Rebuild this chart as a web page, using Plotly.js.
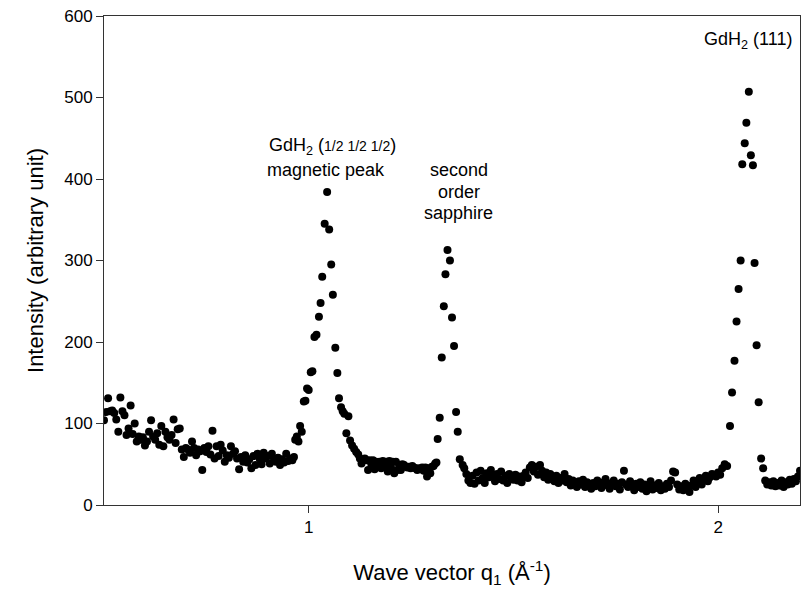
<!DOCTYPE html>
<html>
<head>
<meta charset="utf-8">
<script src="https://cdn.plot.ly/plotly-3.0.1.min.js"></script>
<style>html,body{margin:0;padding:0;background:#fff;}#chart{width:802px;height:598px;}</style>
</head>
<body>
<div id="chart"></div>
<script>
// Wave vector q1 (1/Å)
const qValues = [
0.500,0.505,0.510,0.515,0.520,0.525,0.530,0.535,0.540,0.545,0.550,0.555,0.560,0.565,0.570,0.575,0.580,0.585,0.590,0.595,
0.600,0.605,0.610,0.615,0.620,0.625,0.630,0.635,0.640,0.645,0.650,0.655,0.660,0.665,0.670,0.675,0.680,0.685,0.690,0.695,
0.700,0.705,0.710,0.715,0.720,0.725,0.730,0.735,0.740,0.745,0.750,0.755,0.760,0.765,0.770,0.775,0.780,0.785,0.790,0.795,
0.800,0.805,0.810,0.815,0.820,0.825,0.830,0.835,0.840,0.845,0.850,0.855,0.860,0.865,0.870,0.875,0.880,0.885,0.890,0.895,
0.900,0.905,0.910,0.915,0.920,0.925,0.930,0.935,0.940,0.945,0.950,0.955,
0.960,0.964,0.967,0.971,0.975,0.979,0.983,0.988,0.992,0.996,1.000,1.005,1.009,1.014,1.019,1.025,1.029,1.033,1.039,1.045,
1.050,1.055,1.059,1.065,1.070,1.074,1.079,1.083,1.087,1.092,1.097,1.101,1.106,1.111,1.116,
1.121,1.125,1.129,1.133,1.137,1.141,1.145,1.149,1.153,1.157,1.161,1.165,1.169,1.173,1.177,1.181,1.185,1.189,1.193,1.197,
1.201,1.205,1.209,1.213,1.217,1.221,1.225,1.229,1.233,1.237,1.241,1.245,1.249,1.253,1.257,1.261,1.265,1.269,1.273,1.277,
1.281,1.285,1.289,1.293,1.297,1.301,1.305,1.309,1.312,
1.315,1.320,1.325,1.330,1.334,1.339,1.345,1.350,1.355,1.360,1.364,1.369,1.376,
1.380,1.385,1.390,1.395,1.400,1.405,1.410,1.415,1.420,1.425,1.430,1.435,1.440,1.445,1.450,1.455,1.460,1.465,1.470,1.475,
1.480,1.485,1.490,1.495,1.500,1.505,1.510,1.515,1.520,1.525,1.530,1.535,1.540,1.545,1.550,1.555,1.560,1.565,1.570,1.575,
1.580,1.585,1.590,1.595,1.600,1.605,1.610,1.615,1.620,1.625,1.630,1.635,1.640,1.645,1.650,1.655,1.660,1.665,1.670,1.675,
1.680,1.685,1.690,1.695,1.700,1.705,1.710,1.715,1.720,1.725,1.730,1.735,1.740,1.745,1.750,1.755,1.760,1.765,1.770,1.775,
1.780,1.785,1.790,1.795,1.800,1.805,1.810,1.815,1.820,1.825,1.830,1.835,1.840,1.845,1.850,1.855,1.860,1.865,1.870,1.875,
1.880,1.885,1.890,1.895,1.900,1.905,1.910,1.915,1.920,1.925,1.930,1.935,1.940,1.945,1.950,1.955,1.960,1.965,1.970,1.975,
1.980,1.985,1.990,1.995,2.000,2.005,2.010,
2.016,2.022,2.029,2.034,2.040,2.045,2.050,2.055,2.059,2.065,2.069,2.075,2.080,2.085,2.089,2.094,2.099,2.105,2.110,
2.115,2.120,2.125,2.130,2.135,2.140,2.145,2.150,2.155,2.160,2.165,2.170,2.175,2.180,2.185,2.190,2.195,2.200
];
// Intensity (arbitrary unit)
const intensity = [
104,114,131,115,116,113,105,90,132,115,110,86,94,122,87,100,78,84,80,83,
73,78,90,104,84,80,88,74,97,72,90,83,80,86,105,76,93,94,68,59,
70,68,64,78,70,61,68,66,43,70,65,72,62,91,57,72,60,74,67,53,
61,58,72,63,66,57,44,59,53,61,52,56,45,60,49,63,57,50,64,57,
60,51,63,57,53,58,49,56,52,63,54,57,
55,59,80,84,78,97,90,127,128,143,141,163,164,206,209,231,248,280,345,384,
338,295,258,193,162,131,120,115,112,88,109,79,73,69,65,
62,57,51,55,57,55,43,55,50,55,44,53,47,53,45,54,48,53,41,54,
46,53,39,53,43,49,43,50,49,47,46,47,45,48,46,45,43,45,44,46,
42,46,35,45,39,47,48,51,52,
81,107,181,244,283,313,300,230,195,114,90,56,49,
45,38,30,27,36,26,40,30,42,33,27,39,34,43,36,29,38,32,41,30,
36,27,38,33,31,37,30,35,28,36,40,33,46,49,41,47,37,49,42,34,
40,31,38,33,29,36,27,33,30,38,28,32,24,30,26,22,29,25,31,22,
28,26,20,27,23,30,25,21,28,32,24,20,27,30,23,26,19,28,42,25,
22,29,24,18,26,22,28,20,25,17,23,29,19,24,21,27,18,23,20,26,
22,30,41,40,25,19,23,18,26,21,16,24,30,22,27,33,25,31,36,29,
34,38,37,35,40,37,45,
50,48,97,138,177,225,265,300,418,444,469,507,429,417,297,196,126,57,45,
30,25,28,24,29,23,27,24,30,22,28,25,31,26,32,29,35,42
];
const xTicks = [1, 2];
const yTicks = [0, 100, 200, 300, 400, 500, 600];

const font = "Liberation Sans, Arial, Helvetica, sans-serif";

const trace = {
  x: qValues, y: intensity, type: 'scatter', mode: 'markers',
  marker: {color: '#000', size: 8, line: {width: 0}},
  hoverinfo: 'skip', showlegend: false
};

const layout = {
  width: 802, height: 598,
  margin: {l: 104, r: 2, t: 16, b: 93, pad: 0},
  paper_bgcolor: '#fff', plot_bgcolor: '#fff',
  font: {family: font, color: '#000', size: 17},
  xaxis: {
    range: [0.5, 2.2], tickvals: xTicks, ticktext: xTicks.map(String),
    ticks: 'outside', ticklen: 7, tickwidth: 1, tickcolor: '#333',
    showline: true, linecolor: '#333', linewidth: 1, mirror: true,
    showgrid: false, zeroline: false,
    tickfont: {size: 17, family: font},
    title: {text: 'Wave vector q<sub>1</sub> (Å<sup>-1</sup>)', font: {size: 22, family: font}, standoff: 28}
  },
  yaxis: {
    range: [0, 600], tickvals: yTicks, ticktext: yTicks.map(String),
    ticks: 'outside', ticklen: 7, tickwidth: 1, tickcolor: '#333',
    showline: true, linecolor: '#333', linewidth: 1, mirror: true,
    showgrid: false, zeroline: false,
    tickfont: {size: 17, family: font},
    title: {text: 'Intensity (arbitrary unit)', font: {size: 22, family: font}, standoff: 14}
  },
  annotations: [
    {x: 1.057, y: 440, xref: 'x', yref: 'y', text: 'GdH<sub>2</sub> (<span style="font-size:14px">1/2 1/2 1/2</span>)', showarrow: false, font: {size: 18, family: font}},
    {x: 1.042, y: 411, xref: 'x', yref: 'y', text: 'magnetic peak', showarrow: false, font: {size: 18, family: font}},
    {x: 1.367, y: 411, xref: 'x', yref: 'y', text: 'second', showarrow: false, font: {size: 18, family: font}},
    {x: 1.367, y: 384, xref: 'x', yref: 'y', text: 'order', showarrow: false, font: {size: 18, family: font}},
    {x: 1.367, y: 358, xref: 'x', yref: 'y', text: 'sapphire', showarrow: false, font: {size: 18, family: font}},
    {x: 2.072, y: 570, xref: 'x', yref: 'y', text: 'GdH<sub>2</sub> (111)', showarrow: false, font: {size: 18, family: font}}
  ]
};

Plotly.newPlot('chart', [trace], layout, {staticPlot: true, displayModeBar: false});
</script>
</body>
</html>
